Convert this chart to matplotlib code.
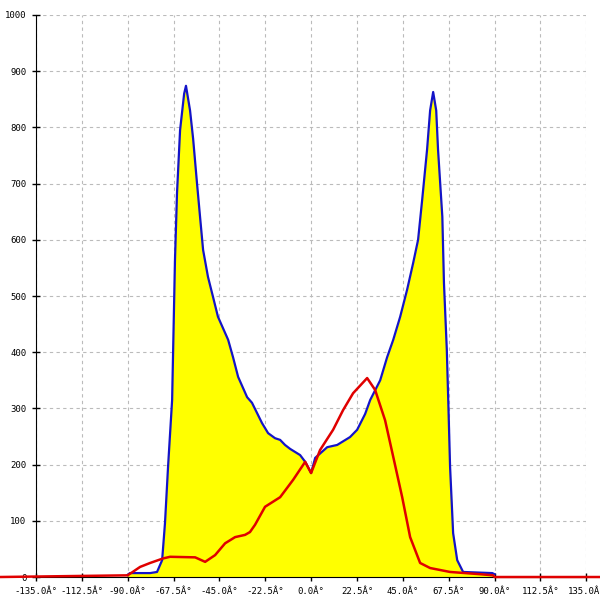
import numpy as np
import matplotlib
matplotlib.use("Agg")
from matplotlib import pyplot as plt

# blue curve (filled yellow underneath)
blueAngle = [-90, -88.9, -79.0, -75.6, -73.1, -71.7, -70.2, -68.2, -66.8, -65.8, -64.3,
             -62.3, -61.4, -59.4, -57.9, -56.0, -54.5, -53.0, -50.6, -48.1, -45.7, -40.7,
             -38.3, -35.8, -31.4, -29.0, -24.1, -21.1, -17.7, -15.2, -12.8, -10.3, -5.4,
             -2.9, 0.0, 2.0, 7.9, 12.8, 19.1, 22.6, 26.5, 29.0, 33.9, 37.3, 40.3, 43.7,
             47.1, 50.1, 52.5, 54.5, 56.9, 58.4, 59.9, 61.4, 62.3, 64.4, 65.2, 66.6,
             67.4, 68.2, 69.7, 71.7, 74.6, 88.9, 90]
blueValue = [4, 7, 7, 9, 30, 96, 196, 315, 564, 683, 795,
             860, 874, 830, 780, 701, 641, 582, 534, 498, 463, 422,
             391, 356, 320, 310, 274, 256, 247, 244, 235, 228, 217,
             205, 185, 212, 231, 235, 249, 262, 290, 315, 350, 391, 422, 463,
             511, 559, 600, 671, 760, 830, 863, 830, 760, 641, 523, 404,
             302, 196, 78, 30, 9, 7, 5]

# red curve
redAngle = [-153, -90, -83.9, -79.0, -72.7, -69.2, -56.9, -52.0, -47.1, -42.2, -37.3, -32.4,
            -30.0, -27.5, -22.6, -15.2, -8.8, -2.9, 0.0, 4.4, 10.8, 15.7, 20.6, 27.5,
            31.4, 36.3, 40.3, 44.7, 48.6, 53.5, 58.4, 68.2, 83.0, 89.3, 90, 142]
redValue = [0, 3, 18, 25, 33, 36, 35, 27, 39, 60, 71, 75,
            80, 93, 125, 142, 173, 205, 185, 226, 262, 297, 327, 354,
            333, 279, 214, 142, 71, 25, 16, 9, 5, 3, 0, 0]

xTicks = np.arange(-135, 135.1, 22.5)
xLabels = ["%.1fÂ°" % t for t in xTicks]
yTicks = np.arange(0, 1001, 100)

fig = plt.figure(figsize=(6, 6), dpi=100)
ax = fig.add_axes([0.06, 0.0383, 0.917, 0.9367])

ax.fill_between(blueAngle, blueValue, color="#ffff00", linewidth=0)
ax.plot(blueAngle, blueValue, color="#1414c8", linewidth=1.6)
ax.plot(redAngle, redValue, color="#e00000", linewidth=1.8, clip_on=False, zorder=5)

ax.set_xlim(-135, 135)
ax.set_ylim(0, 1000)
ax.set_xticks(xTicks)
ax.set_xticklabels(xLabels, family="DejaVu Sans Mono", fontsize=6.5)
ax.set_yticks(yTicks)
ax.set_yticklabels([str(t) for t in yTicks], family="DejaVu Sans Mono", fontsize=6.5)
ax.tick_params(direction="inout", length=6, width=1, pad=4)

ax.grid(True, linestyle=(0, (3, 3)), color="#bbbbbb", linewidth=0.8)
ax.set_axisbelow(True)
for s in ["top", "right"]:
    ax.spines[s].set_visible(False)
for s in ["left", "bottom"]:
    ax.spines[s].set_color("black")

fig.savefig("out.png", dpi=100)
